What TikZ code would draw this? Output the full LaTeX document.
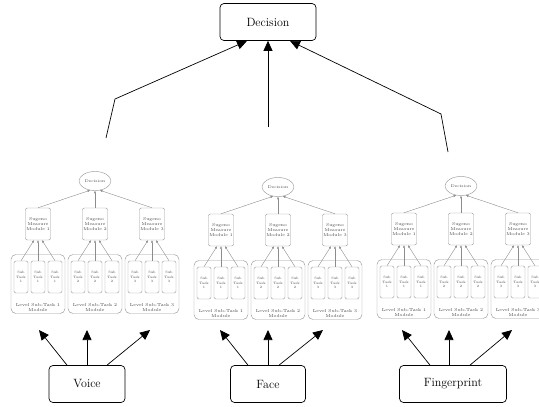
\documentclass[tikz,border=0pt]{standalone}
\usepackage{tikz}
\usetikzlibrary{arrows.meta,shapes.geometric,positioning}

\tikzset{
  bigbox/.style={draw, line width=0.7pt, rounded corners=4pt, minimum height=37pt, font=\large},
  bigarrow/.style={line width=0.7pt, -{Triangle[length=10pt,width=9pt]}},
  decell/.style={draw=gray!80, line width=0.45pt, ellipse, inner sep=0pt, minimum width=32pt, minimum height=19pt,
    text=gray!50!black, font=\fontsize{4}{4.5}\selectfont},
  sugbox/.style={draw=gray!80, line width=0.45pt, rounded corners=2pt, minimum width=25pt, minimum height=32pt, inner sep=0pt,
    align=center, text=gray!50!black, font=\fontsize{4.2}{5.4}\selectfont},
  grpbox/.style={draw=gray!80, line width=0.45pt, rounded corners=5pt, minimum width=54pt, minimum height=59pt, inner sep=0pt},
  taskbox/.style={draw=gray!80, line width=0.45pt, rounded corners=1.5pt, minimum width=14pt, minimum height=32pt, inner sep=0pt,
    align=center, text=gray!50!black, font=\fontsize{3.3}{4.3}\selectfont},
  grplabel/.style={anchor=south, inner sep=1pt, align=center, text=gray!50!black,
    font=\fontsize{4.3}{5.2}\selectfont},
  smallarrow/.style={draw=gray!90, line width=0.4pt, -{Triangle[length=2.5pt,width=2pt]}}
}

\begin{document}
\begin{tikzpicture}[x=1pt,y=-1pt]
	\useasboundingbox (0,0) rectangle (539,407);

	% one fusion branch: #1 prefix, #2 centre of its decision ellipse
	\newcommand\Branch[2]{
		\begin{scope}[shift={#2}]
			\node[decell] (#1dec) at (0,0) {Decision};
			\foreach \i/\dx/\ang in {1/-57/-118,2/0/-90,3/57/-62} {
				\node[sugbox] (#1sug\i) at (\dx,43) {Sugeno\\Measure\\Module \i};
				\node[grpbox] (#1grp\i) at (\dx,103) {};
				\node[grplabel] (#1lab\i) at ([yshift=1pt]#1grp\i.south) {Level Sub-Task \i\\Module};
				\foreach \j/\sx in {1/-17,2/0,3/17} {
					\node[taskbox] (#1t\i\j) at (\dx+\sx,96) {Sub\\Task\\\i};
					\draw[smallarrow] (#1t\i\j.north) -- ([xshift=(\j-2)*4pt]#1sug\i.south);
				}
				\draw[smallarrow] (#1sug\i.north) -- (#1dec.\ang);
			}
		\end{scope}
	}

	\node[bigbox, minimum width=96pt] (top) at (268,22) {Decision};

	\Branch{v}{(95,181)}
	\Branch{f}{(278,187)}
	\Branch{g}{(461,186)}

	% outputs of the branches
	\coordinate (vout) at (106,138);
	\coordinate (vbend) at (115,99);
	\coordinate (fout) at (268,127);
	\coordinate (gout) at (448,152);
	\coordinate (gbend) at (441,114);

	\draw[bigarrow] (vout) -- (vbend) -- ([xshift=-21pt]top.south);
	\draw[bigarrow] (fout) -- (top.south);
	\draw[bigarrow] (gout) -- (gbend) -- ([xshift=22pt]top.south);

	% biometric inputs
	\node[bigbox, minimum width=76pt] (voice) at (87,384) {Voice};
	\node[bigbox, minimum width=75pt] (face) at (268,384) {Face};
	\node[bigbox, minimum width=107pt] (finger) at (453,384) {Fingerprint};

	\coordinate (vin1) at (39,330);
	\coordinate (vin2) at (87,330);
	\coordinate (vin3) at (150,330);
	\coordinate (fin1) at (220,330);
	\coordinate (fin2) at (268,330);
	\coordinate (fin3) at (323,330);
	\coordinate (gin1) at (402,330);
	\coordinate (gin2) at (449,330);
	\coordinate (gin3) at (512,330);

	\draw[bigarrow] ([xshift=-20pt]voice.north) -- (vin1);
	\draw[bigarrow] (voice.north) -- (vin2);
	\draw[bigarrow] ([xshift=20pt]voice.north) -- (vin3);
	\draw[bigarrow] ([xshift=-20pt]face.north) -- (fin1);
	\draw[bigarrow] (face.north) -- (fin2);
	\draw[bigarrow] ([xshift=11pt]face.north) -- (fin3);
	\draw[bigarrow] ([xshift=-23pt]finger.north) -- (gin1);
	\draw[bigarrow] ([xshift=-4pt]finger.north) -- (gin2);
	\draw[bigarrow] ([xshift=17pt]finger.north) -- (gin3);
\end{tikzpicture}
\end{document}
